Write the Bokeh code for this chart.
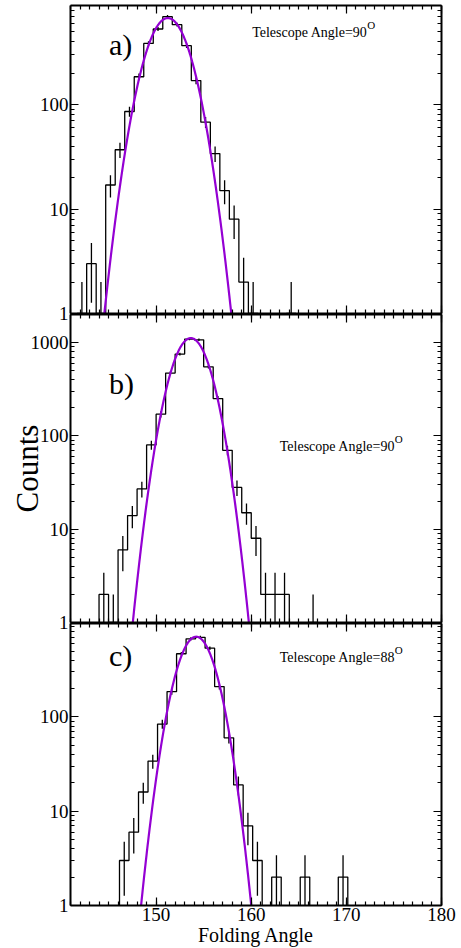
import numpy as np
from bokeh.plotting import figure
from bokeh.layouts import column
from bokeh.models import LinearAxis, LogAxis, Label, Range1d, FixedTicker, PrintfTickFormatter
from bokeh.embed import file_html
from bokeh.resources import INLINE

# ---------------- data ----------------
bin_width = 1.0

a_left = [141.7, 142.7, 143.7, 144.7, 145.7, 146.7, 147.7, 148.7, 149.7, 150.7, 151.7, 152.7,
          153.7, 154.7, 155.7, 156.7, 157.7, 158.7, 159.7, 160.7, 161.7, 162.7, 163.7]
a_counts = [1, 3, 1, 17, 37, 86, 185, 386, 530, 695, 583, 367,
            170, 68, 34, 15, 8, 2, 1, 0, 0, 0, 1]

b_left = [144, 145, 146, 147, 148, 149, 150, 151, 152, 153, 154, 155,
          156, 157, 158, 159, 160, 161, 162, 163, 164, 165, 166]
b_counts = [2, 1, 6, 14, 27, 80, 171, 471, 753, 1090, 1071, 550,
            251, 70, 28, 15, 8, 2, 2, 2, 0, 0, 1]

c_left = [146.15, 147.15, 148.15, 149.15, 150.15, 151.15, 152.15, 153.15, 154.15, 155.15, 156.15, 157.15,
          158.15, 159.15, 160.15, 161.15, 162.15, 163.15, 164.15, 165.15, 166.15, 167.15, 168.15, 169.15]
c_counts = [3, 6, 16, 34, 84, 186, 468, 674, 700, 537, 210, 60,
            19, 7, 3, 0, 2, 0, 0, 2, 0, 0, 0, 2]

# Gaussian fit parameters (amplitude, mean, sigma) per panel
fit_amp = [675, 1117, 710]
fit_mu = [151.23, 153.65, 154.21]
fit_sigma = [1.848, 1.628, 1.598]

panel_tags = ["a)", "b)", "c)"]
telescope_angles = ["90", "90", "88"]

x_tick_major = [150, 160, 170, 180]
y_tick_major = [1, 10, 100, 1000]

# ---------------- styling / layout ----------------
FONT = "Liberation Serif"
PURPLE = "#9400D3"
X_RANGE = (141, 180)
Y_TOPS = [890, 2000, 980]
FLOOR = 0.5

x_minor = [v for v in range(141, 181)]
y_minor = [m * 10 ** k for k in range(0, 4) for m in range(2, 10)]


def style_axis(ax, labels, ticks, minor):
    ax.ticker = FixedTicker(ticks=ticks, minor_ticks=minor)
    ax.axis_line_width = 2
    ax.axis_line_color = "black"
    ax.major_tick_in = 8
    ax.major_tick_out = 0
    ax.minor_tick_in = 4
    ax.minor_tick_out = 0
    ax.major_tick_line_width = 1.2
    ax.minor_tick_line_width = 1.2
    ax.major_tick_line_color = "black"
    ax.minor_tick_line_color = "black"
    ax.formatter = PrintfTickFormatter(format="%d")
    if labels:
        ax.major_label_text_font = FONT
        ax.major_label_text_font_size = "19px"
        ax.major_label_text_color = "black"
        ax.major_label_standoff = 2
    else:
        ax.major_label_text_font_size = "1px"
        ax.major_label_text_alpha = 0
        ax.major_label_standoff = 0


def make_panel(i, left, counts, last, height, top_border, bottom_border):
    p = figure(width=461, height=height, y_axis_type="log",
               x_range=Range1d(*X_RANGE), y_range=Range1d(1, Y_TOPS[i]),
               output_backend="svg", toolbar_location=None,
               min_border_left=70, min_border_right=20,
               min_border_top=top_border, min_border_bottom=bottom_border)
    p.xgrid.visible = False
    p.ygrid.visible = False
    p.outline_line_color = None
    p.background_fill_color = None
    p.border_fill_color = None

    style_axis(p.yaxis[0], True, y_tick_major, y_minor)
    style_axis(p.xaxis[0], last, x_tick_major, x_minor)
    if last:
        p.xaxis[0].axis_label = "Folding Angle"
        p.xaxis[0].axis_label_text_font = FONT
        p.xaxis[0].axis_label_text_font_style = "normal"
        p.xaxis[0].axis_label_text_font_size = "20px"
        p.xaxis[0].axis_label_text_color = "black"
        p.xaxis[0].axis_label_standoff = 0
    top = LinearAxis()
    style_axis(top, False, x_tick_major, x_minor)
    p.add_layout(top, "above")
    right = LogAxis()
    style_axis(right, False, y_tick_major, y_minor)
    p.add_layout(right, "right")

    # histogram outline built from bin edges and counts
    xs = [left[0]]
    ys = [FLOOR]
    for lo, n in zip(left, counts):
        h = n if n > 0 else FLOOR
        xs += [lo, lo + bin_width]
        ys += [h, h]
    xs.append(left[-1] + bin_width)
    ys.append(FLOOR)
    p.line(xs, ys, line_color="black", line_width=1.3)

    # sqrt(N) error bars at bin centres
    cx = [lo + bin_width / 2 for lo, n in zip(left, counts) if n > 0]
    nn = np.array([n for n in counts if n > 0], dtype=float)
    lo_e = np.maximum(nn - np.sqrt(nn), FLOOR)
    hi_e = nn + np.sqrt(nn)
    p.segment(x0=cx, y0=lo_e, x1=cx, y1=hi_e, line_color="black", line_width=1.3)

    # gaussian fit
    A, mu, s = fit_amp[i], fit_mu[i], fit_sigma[i]
    half = s * np.sqrt(2 * np.log(A / 0.8))
    gx = np.linspace(mu - half, mu + half, 300)
    gy = A * np.exp(-(gx - mu) ** 2 / (2 * s ** 2))
    p.line(gx, gy, line_color=PURPLE, line_width=2.2)
    return p


pa = make_panel(0, a_left, a_counts, False, 325, 5, 12)
pb = make_panel(1, b_left, b_counts, False, 326, 6, 12)
pc = make_panel(2, c_left, c_counts, True, 331, 6, 1)
pb.styles = {"margin-top": "-17px"}
pc.styles = {"margin-top": "-17px"}

# panel tags and annotations
tag_pos = [(145.05, 375), (145.05, 365), (145.05, 452)]
tele_pos = [(160.1, 491), (163.0, 77.6), (163.0, 430)]
for p, tag, (tx, ty), ang, (sx, sy) in zip([pa, pb, pc], panel_tags, tag_pos, telescope_angles, tele_pos):
    p.add_layout(Label(x=tx, y=ty, text=tag, text_font=FONT, text_font_size="30px",
                       text_baseline="alphabetic", text_color="black"))
    p.add_layout(Label(x=sx, y=sy, text="Telescope Angle=" + ang, text_font=FONT,
                       text_font_size="14px", text_baseline="alphabetic", text_color="black"))
    p.add_layout(Label(x=sx, y=sy, x_offset=115, y_offset=7, text="O", text_font=FONT,
                       text_font_size="11px", text_baseline="alphabetic", text_color="black"))

pb.yaxis[0].axis_label = "Counts"
pb.yaxis[0].axis_label_text_font = FONT
pb.yaxis[0].axis_label_text_font_style = "normal"
pb.yaxis[0].axis_label_text_font_size = "31px"
pb.yaxis[0].axis_label_text_color = "black"
pb.yaxis[0].axis_label_standoff = -17

layout = column(pa, pb, pc, spacing=0)
open("out.html", "w").write(file_html(layout, INLINE))
